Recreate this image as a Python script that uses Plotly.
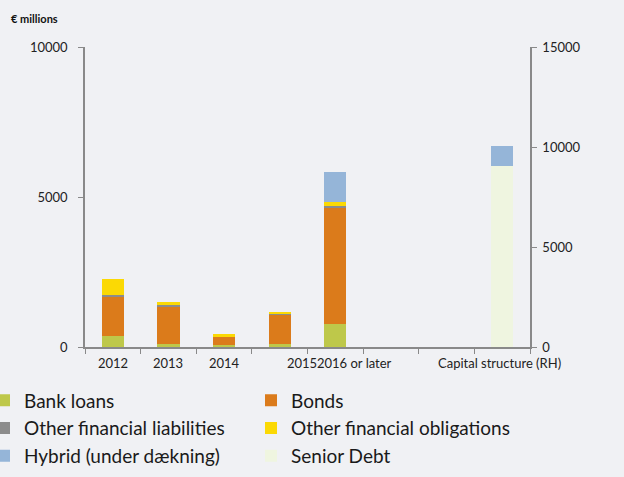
import plotly.graph_objects as go

categories = ["2012", "2013", "2014", "2015", "2016 or later", " ", "  ", "Capital structure (RH)"]
tick_labels = ["2012", "2013", "2014", "2015", "2016 or later", "", "", "Capital structure (RH)"]
label_shift = [0, 0, 0, 22, 19, 0, 0, -3]

maturity_cats = categories[:5]
bank_loans = [370, 100, 70, 100, 770]
bonds = [1300, 1230, 280, 970, 3890]
other_liabilities = [70, 70, 15, 20, 55]
other_obligations = [520, 90, 65, 75, 120]
hybrid_maturity = [0, 0, 0, 0, 1000]

cap_cat = [categories[-1]]
senior_debt_cap = [9050]
hybrid_cap = [1000]

colors = {
    "Bank loans": "#BEC84A",
    "Bonds": "#DB7B1B",
    "Other financial liabilities": "#8C8C8C",
    "Other financial obligations": "#FBD904",
    "Hybrid (under dækning)": "#95B5D8",
    "Senior Debt": "#EFF5E0",
}

FONT = "Lato"
fig = go.Figure()
series = [
    ("Bank loans", bank_loans),
    ("Bonds", bonds),
    ("Other financial liabilities", other_liabilities),
    ("Other financial obligations", other_obligations),
    ("Hybrid (under dækning)", hybrid_maturity),
]
for name, vals in series:
    fig.add_trace(go.Bar(x=maturity_cats, y=vals, name=name, marker_color=colors[name],
                         marker_line_width=0, legendgroup=name, yaxis="y"))
fig.add_trace(go.Bar(x=cap_cat, y=senior_debt_cap, name="Senior Debt", marker_color=colors["Senior Debt"],
                     marker_line_width=0, legendgroup="Senior Debt", yaxis="y2"))
fig.add_trace(go.Bar(x=cap_cat, y=hybrid_cap, name="Hybrid (under dækning)",
                     marker_color=colors["Hybrid (under dækning)"], marker_line_width=0,
                     legendgroup="Hybrid (under dækning)", showlegend=False, yaxis="y2"))

axis_col = "#898989"
fig.update_layout(
    width=624, height=477,
    margin=dict(l=85, r=94, t=47, b=130, autoexpand=False),
    paper_bgcolor="#F0F1F4", plot_bgcolor="#F0F1F4",
    barmode="stack", bargap=0.6,
    font=dict(family=FONT, size=13, color="#222222"),
    xaxis=dict(type="category", categoryorder="array", categoryarray=categories,
               range=[-0.5, 7.5], showticklabels=False, ticks="outside", tickson="boundaries",
               ticklen=5, tickcolor=axis_col, showline=True, linecolor=axis_col, linewidth=2,
               showgrid=False, zeroline=False),
    yaxis=dict(range=[0, 10000], dtick=5000, tickformat="d", ticks="outside", ticklen=5,
               ticklabelstandoff=8,
               tickcolor=axis_col, showline=True, linecolor=axis_col, linewidth=1.5,
               showgrid=False, zeroline=False, tickfont=dict(size=13, color="#222222")),
    yaxis2=dict(range=[0, 15000], dtick=5000, tickformat="d", overlaying="y", side="right",
                ticks="outside", ticklen=5, ticklabelstandoff=3, tickcolor=axis_col, showline=True,
                linecolor=axis_col, linewidth=1.5, showgrid=False, zeroline=False,
                tickfont=dict(size=13, color="#222222")),
    legend=dict(orientation="h", x=-101 / 445, xanchor="left", y=-0.115, yanchor="top",
                entrywidth=222, entrywidthmode="pixels", font=dict(size=19, color="#1a1a1a"),
                bgcolor="rgba(0,0,0,0)", traceorder="normal"),
    showlegend=True,
)

for i, (lab, sh) in enumerate(zip(tick_labels, label_shift)):
    if lab:
        fig.add_annotation(x=i, y=0, xref="x", yref="paper", text=lab, showarrow=False,
                           yanchor="top", yshift=-6, xshift=sh, font=dict(size=13, color="#222222"))

fig.add_annotation(x=0, y=1, xref="paper", yref="paper", text="<b>€ millions</b>", showarrow=False,
                   xanchor="left", yanchor="top", xshift=-85 + 9, yshift=47 - 10,
                   font=dict(size=11, color="#111111"))

fig.write_html("out.html")
